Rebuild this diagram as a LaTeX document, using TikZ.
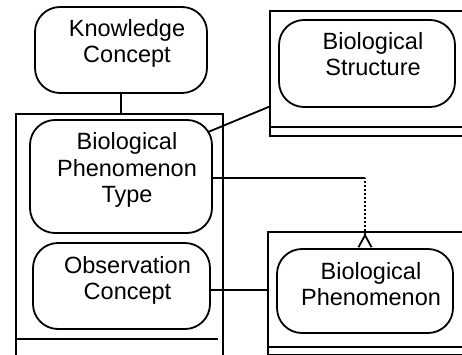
\documentclass[tikz,border=0pt]{standalone}
\usepackage{fontspec}
\setmainfont{Liberation Sans}
\usetikzlibrary{arrows.meta,calc}
\tikzset{
  concept/.style={draw, line width=1.8pt, rounded corners=25pt, inner sep=0pt,
    align=center, text height=30pt, font=\fontsize{23.5}{26}\selectfont,
    execute at begin node={\leftskip=12pt plus 1fil\rightskip=0pt plus 1fil\parfillskip=0pt}},
  holder/.style={draw, line width=1.8pt, inner sep=0pt, anchor=north west},
  link/.style={line width=1.8pt},
  instof/.style={line width=2.2pt, dash pattern=on 2.5pt off 1.5pt,
    {Straight Barb[reversed,length=12pt,width=13pt,line width=1.8pt]}-}
}
\begin{document}
\begin{tikzpicture}[x=1pt,y=-1pt]
  \useasboundingbox (0,0) rectangle (462,355);
  \node[holder, minimum width=207pt, minimum height=247pt] (leftcont) at (15,113) {};
  \node[holder, minimum width=206pt, minimum height=125pt] (structcont) at (269,10) {};
  \node[holder, minimum width=208pt, minimum height=123pt] (bpcont) at (267,231) {};
  \draw[link] ([yshift=23pt]leftcont.south west) -- ([yshift=23pt,xshift=-6pt]leftcont.south east);
  \draw[link] ([yshift=10pt]structcont.south west) -- ([yshift=10pt]structcont.south east);
  \draw[link] ([yshift=9pt]bpcont.south west) -- ([yshift=9pt]bpcont.south east);

  \node[concept, text width=172pt, text depth=56pt] (kc) at (121,50) {Knowledge\\Concept};
  \node[concept, text width=182pt, text depth=83pt] (bpt) at (121,176.5) {Biological\\Phenomenon\\Type};
  \node[concept, text width=177pt, text depth=56pt] (oc) at (121.5,286) {Observation\\Concept};
  \node[concept, text width=176pt, text depth=57pt] (bs) at (367,63.5) {Biological\\Structure};
  \node[concept, text width=176pt, text depth=54pt] (bp) at (365,291) {Biological\\Phenomenon};

  \draw[link] (kc.south) -- (kc.south |- leftcont.north);
  \draw[link] ($(bpt.north east)+(-5,13)$) -- ($(structcont.south west)+(0,-30)$);
  \draw[link] ([yshift=-1.5pt]bpt.east) coordinate (bend0) -- (bend0 -| bp.north) coordinate (bend);
  \draw[instof] (bp.north) -- (bend);
  \draw[link] ([yshift=-4pt]oc.east) -- ([yshift=-4pt]oc.east -| bpcont.west);
\end{tikzpicture}
\end{document}
